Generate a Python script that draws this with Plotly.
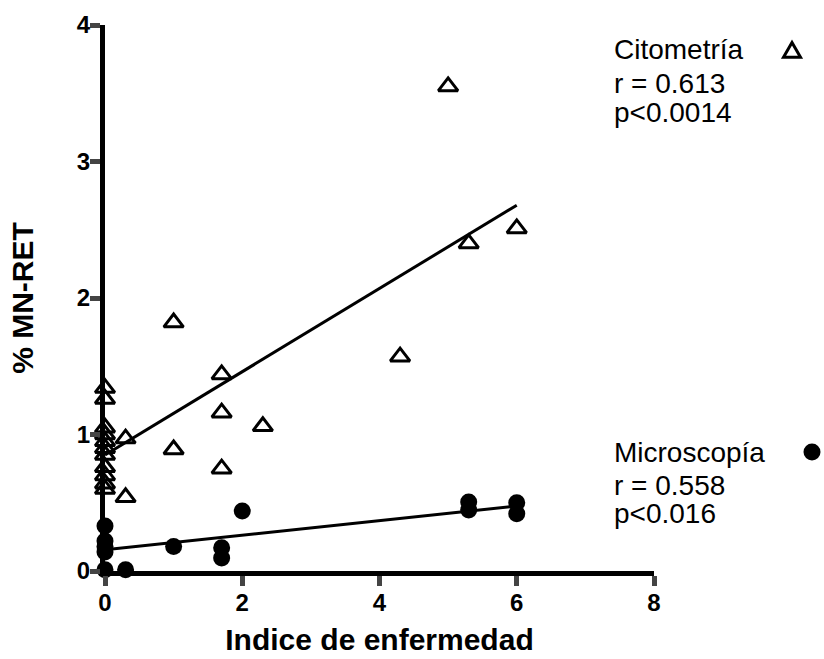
import plotly.graph_objects as go

# Citometría (open triangles)
cit_x = [0, 0, 0, 0, 0, 0, 0, 0, 0, 0, 0, 0.3, 0.3, 1.0, 1.0, 1.7, 1.7, 1.7, 2.3, 4.3, 5.0, 5.3, 6.0]
cit_y = [1.34, 1.26, 1.05, 1.0, 0.95, 0.9, 0.85, 0.76, 0.7, 0.64, 0.6, 0.97, 0.54, 1.82, 0.89, 1.44, 1.16, 0.75, 1.06, 1.57, 3.55, 2.40, 2.51]
# Microscopía (filled circles)
mic_x = [0, 0, 0, 0, 0, 0.3, 1.0, 1.7, 1.7, 2.0, 5.3, 5.3, 6.0, 6.0]
mic_y = [0.33, 0.22, 0.18, 0.14, 0.01, 0.01, 0.18, 0.17, 0.095, 0.44, 0.505, 0.447, 0.50, 0.42]

# Regression fits (intercept, slope) drawn over x range
fit_range = [0, 6]
cit_fit = (0.85, 0.305)
mic_fit = (0.155, 0.0535)

cit_stats = ["Citometría", "r = 0.613", "p<0.0014"]
mic_stats = ["Microscopía", "r = 0.558", "p<0.016"]

x_ticks = [0, 2, 4, 6, 8]
y_ticks = [0, 1, 2, 3, 4]

FONT = "Arial, Liberation Sans, sans-serif"

# plot area in pixels (for legend keys placed in the right margin)
L, R, T, B = 105, 170, 25, 88
W, H = 824, 659
PW, PH = W - L - R, H - T - B

def px_to_paper(px, py):
    return (px - L) / PW, (H - B - py) / PH

fig = go.Figure()
for b0, b1 in [cit_fit, mic_fit]:
    fig.add_trace(go.Scatter(x=fit_range, y=[b0 + b1 * v for v in fit_range], mode="lines",
                             line=dict(color="black", width=3), showlegend=False, cliponaxis=False))
fig.add_trace(go.Scatter(x=cit_x, y=cit_y, mode="markers", cliponaxis=False, showlegend=False,
                         marker=dict(symbol="triangle-up-open", size=17, color="black",
                                     line=dict(color="black", width=3))))
fig.add_trace(go.Scatter(x=mic_x, y=mic_y, mode="markers", cliponaxis=False, showlegend=False,
                         marker=dict(symbol="circle", size=17, color="black",
                                     line=dict(color="black", width=0))))

# legend keys to the right of the label text
cx, cy = 792, 51
hw, up, dn = 8.5, 8.5, 6.2
p1 = px_to_paper(cx - hw, cy + dn)
p2 = px_to_paper(cx + hw, cy + dn)
p3 = px_to_paper(cx, cy - up)
fig.add_shape(type="path", xref="paper", yref="paper",
              path=f"M{p1[0]},{p1[1]} L{p2[0]},{p2[1]} L{p3[0]},{p3[1]} Z",
              line=dict(color="black", width=3), fillcolor="rgba(0,0,0,0)")
c0 = px_to_paper(812 - 8.5, 452 + 8.5)
c1 = px_to_paper(812 + 8.5, 452 - 8.5)
fig.add_shape(type="circle", xref="paper", yref="paper", x0=c0[0], y0=c0[1], x1=c1[0], y1=c1[1],
              line=dict(color="black", width=0), fillcolor="black")

def label(text, py):
    x, y = px_to_paper(612, py)
    fig.add_annotation(x=x, y=y, xref="paper", yref="paper", text=text, showarrow=False,
                       xanchor="left", yanchor="middle",
                       font=dict(family=FONT, size=28, color="black"))

for t, py in zip(cit_stats, [50, 84, 113]):
    label(t, py)
for t, py in zip(mic_stats, [452, 485, 513]):
    label(t, py)

fig.update_layout(
    width=W, height=H,
    margin=dict(l=L, r=R, t=T, b=B, autoexpand=False),
    plot_bgcolor="white", paper_bgcolor="white",
    font=dict(family=FONT, color="black"),
    xaxis=dict(range=[0, 8], tickvals=x_ticks, ticks="outside", ticklen=10, tickwidth=5,
               showline=True, linewidth=5, linecolor="black", showgrid=False, zeroline=False,
               automargin=False, ticklabelstandoff=-4,
               tickfont=dict(family=FONT, size=24, color="black", weight="bold"),
               title=dict(text="Indice de enfermedad", standoff=16,
                          font=dict(family=FONT, size=30, color="black", weight="bold"))),
    yaxis=dict(range=[0, 4], tickvals=y_ticks, ticks="outside", ticklen=10, tickwidth=5,
               showline=True, linewidth=5, linecolor="black", showgrid=False, zeroline=False,
               automargin=False, ticklabelstandoff=-5,
               tickfont=dict(family=FONT, size=24, color="black", weight="bold"),
               title=dict(text="% MN-RET", standoff=36,
                          font=dict(family=FONT, size=30, color="black", weight="bold"))),
)

fig.write_html("out.html")
